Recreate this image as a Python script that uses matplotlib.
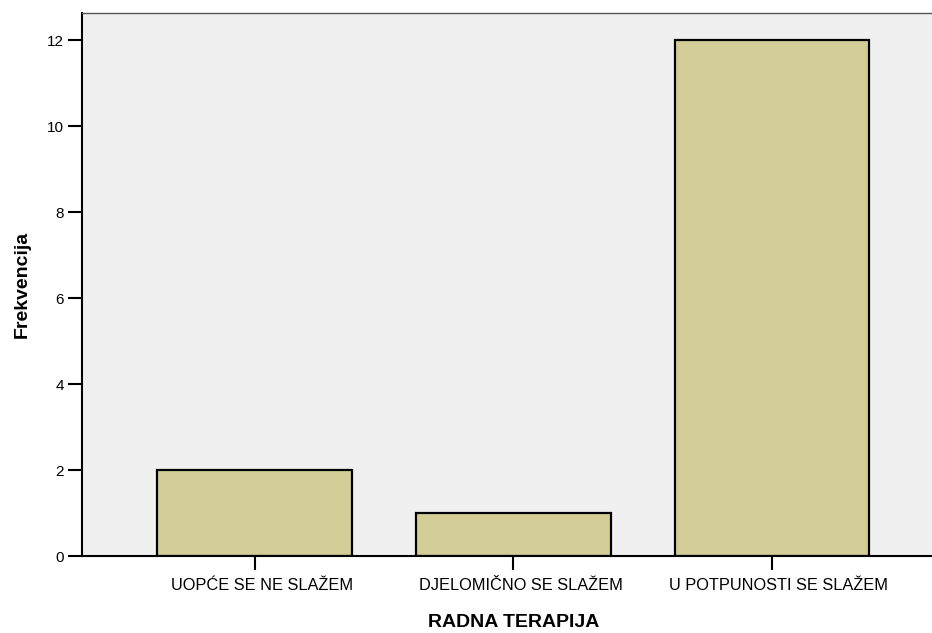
import matplotlib
matplotlib.use('Agg')
import matplotlib.pyplot as plt
import matplotlib.transforms as mtransforms

categories = ['UOPĆE SE NE SLAŽEM', 'DJELOMIČNO SE SLAŽEM', 'U POTPUNOSTI SE SLAŽEM']
counts = [2, 1, 12]
yticks = [0, 2, 4, 6, 8, 10, 12]

plt.rcParams['font.family'] = ['Liberation Sans', 'DejaVu Sans']

fig = plt.figure(figsize=(9.32, 6.33), dpi=100)
ax = fig.add_axes([82/932, 1 - 556/633, 1 - 82/932, (556 - 13)/633])
ax.set_facecolor('#F0F0F0')

x = range(len(categories))
ax.bar(x, counts, width=0.754, color='#D3CE97', edgecolor='black', linewidth=1.6, zorder=2)

ax.set_xlim(-0.669, 2.619)
ax.set_ylim(0, 12.63)
ax.set_xticks(list(x))
ax.set_xticklabels(categories, fontsize=11.8)
ax.set_yticks(yticks)
ax.set_yticklabels([str(v) for v in yticks], fontsize=11)
ax.tick_params(direction='out', length=10, width=1.5, color='black')
ax.tick_params(axis='x', pad=6)
ax.tick_params(axis='y', pad=3)

# labels sit a little right of the ticks in the original
shift = mtransforms.ScaledTranslation(0.07, 0, fig.dpi_scale_trans)
for lbl in ax.get_xticklabels():
    lbl.set_transform(lbl.get_transform() + shift)

ax.spines['right'].set_visible(False)
ax.spines['top'].set_color('#555555')
ax.spines['left'].set_linewidth(1.5)
ax.spines['bottom'].set_linewidth(1.5)
ax.spines['top'].set_linewidth(1.0)

ax.set_xlabel('RADNA TERAPIJA', fontsize=14, fontweight='bold')
ax.xaxis.set_label_coords(0.508, -0.107)
ax.set_ylabel('Frekvencija', fontsize=14, fontweight='bold', labelpad=12)

fig.savefig('out.png', dpi=100)
plt.close()
